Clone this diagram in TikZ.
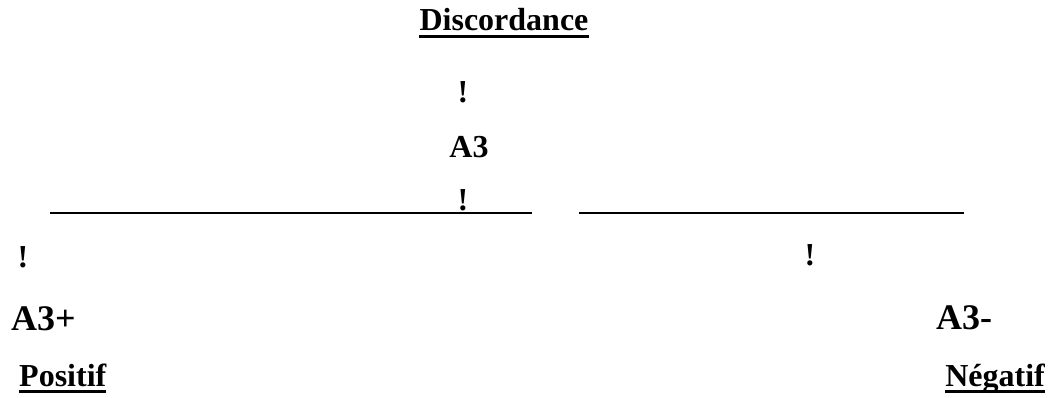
\documentclass[tikz,border=0pt]{standalone}
\usepackage{fontspec}
\setmainfont{Liberation Serif}
\usepackage{tikz}

\begin{document}
\begin{tikzpicture}[x=1pt,y=-1pt,
  lbl/.style={inner sep=0pt,font=\fontsize{32}{38}\selectfont\bfseries},
  big/.style={inner sep=0pt,font=\fontsize{36}{43}\selectfont\bfseries},
  uline/.style={line width=3pt},
  axis/.style={line width=2pt}]
  \useasboundingbox (0,0) rectangle (1052,397);
  \node[lbl,anchor=base] (disc) at (504,30) {Discordance};
  \draw[uline] ([yshift=-6pt]disc.base west) -- ([yshift=-6pt]disc.base east);
  \node[lbl,anchor=base] (bangtop) at (463,102) {!};
  \node[lbl,anchor=base] (athree) at (469,157) {A3};
  \node[lbl,anchor=base] (bangmid) at (463,210) {!};
  % the two segments
  \coordinate (lstart) at (50,213);
  \coordinate (lend) at (532,213);
  \coordinate (rstart) at (579,213);
  \coordinate (rend) at (964,213);
  \draw[axis] (lstart) -- (lend);
  \draw[axis] (rstart) -- (rend);
  \node[lbl,anchor=base] (bangleft) at (23,267) {!};
  \node[lbl,anchor=base] (bangright) at (810,265) {!};
  \node[big,anchor=base west] (aplus) at (11,330) {A3+};
  \node[big,anchor=base west] (aminus) at (936,329) {A3-};
  \node[lbl,anchor=base west] (pos) at (19,386) {Positif};
  \node[lbl,anchor=base east] (neg) at (1045,386) {Négatif};
  \draw[uline] ([yshift=-5pt]pos.base west) -- ([yshift=-5pt]pos.base east);
  \draw[uline] ([yshift=-5pt]neg.base west) -- ([yshift=-5pt]neg.base east);
\end{tikzpicture}
\end{document}
